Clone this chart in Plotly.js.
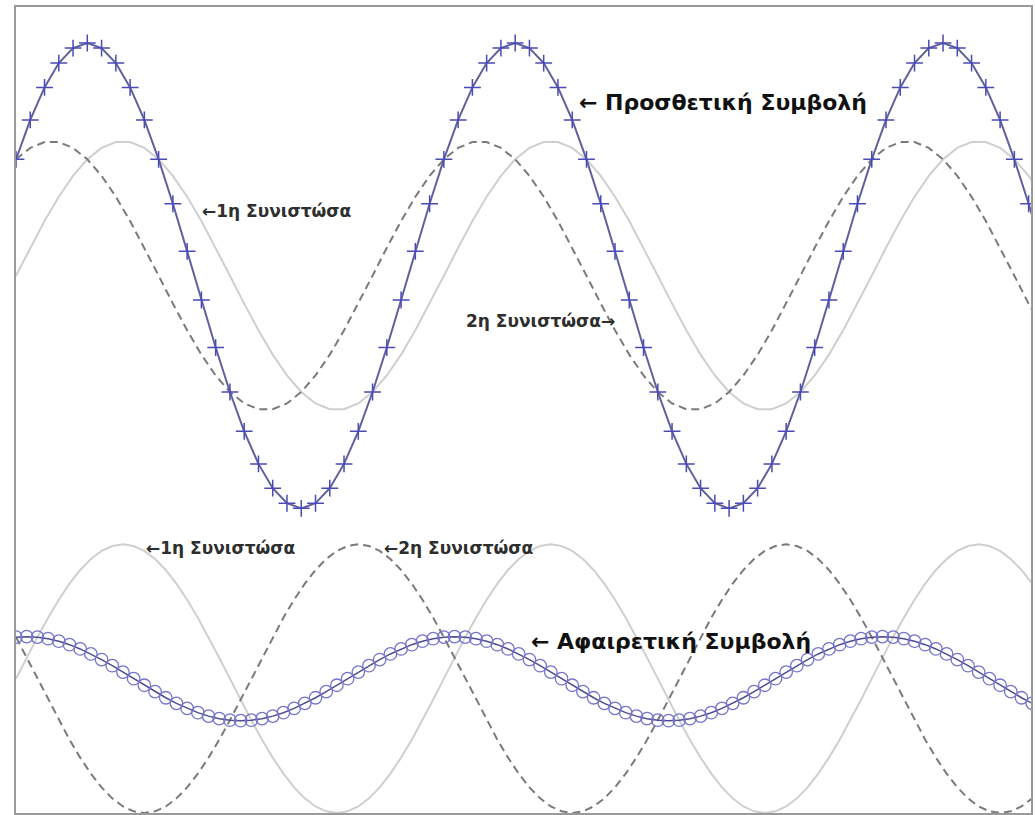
<!DOCTYPE html>
<html>
<head>
<meta charset="utf-8">
<script src="https://cdn.plot.ly/plotly-3.0.1.min.js"></script>
<style>
  html, body { margin: 0; padding: 0; background: #ffffff; }
  #chart { width: 1035px; height: 815px; }
</style>
</head>
<body>
<div id="chart"></div>
<script>
// Phase angle (degrees) for the constructive-interference group
const phaseTop = [0,12,24,36,48,60,72,84,96,108,120,132,144,156,168,180,192,204,216,228,240,252,264,276,288,300,312,324,336,348,
  360,372,384,396,408,420,432,444,456,468,480,492,504,516,528,540,552,564,576,588,600,612,624,636,648,660,672,684,696,708,
  720,732,744,756,768,780,792,804,816,828,840,852,864];

// 1st component (constructive)
const topFirst = [0,0.2079,0.4067,0.5878,0.7431,0.8660,0.9511,0.9945,0.9945,0.9511,0.8660,0.7431,0.5878,0.4067,0.2079,0,-0.2079,-0.4067,-0.5878,-0.7431,-0.8660,-0.9511,-0.9945,-0.9945,-0.9511,-0.8660,-0.7431,-0.5878,-0.4067,-0.2079,
  0,0.2079,0.4067,0.5878,0.7431,0.8660,0.9511,0.9945,0.9945,0.9511,0.8660,0.7431,0.5878,0.4067,0.2079,0,-0.2079,-0.4067,-0.5878,-0.7431,-0.8660,-0.9511,-0.9945,-0.9945,-0.9511,-0.8660,-0.7431,-0.5878,-0.4067,-0.2079,
  0,0.2079,0.4067,0.5878,0.7431,0.8660,0.9511,0.9945,0.9945,0.9511,0.8660,0.7431,0.5878];

// 2nd component (constructive)
const topSecond = [0.8660,0.9511,0.9945,0.9945,0.9511,0.8660,0.7431,0.5878,0.4067,0.2079,0,-0.2079,-0.4067,-0.5878,-0.7431,-0.8660,-0.9511,-0.9945,-0.9945,-0.9511,-0.8660,-0.7431,-0.5878,-0.4067,-0.2079,0,0.2079,0.4067,0.5878,0.7431,
  0.8660,0.9511,0.9945,0.9945,0.9511,0.8660,0.7431,0.5878,0.4067,0.2079,0,-0.2079,-0.4067,-0.5878,-0.7431,-0.8660,-0.9511,-0.9945,-0.9945,-0.9511,-0.8660,-0.7431,-0.5878,-0.4067,-0.2079,0,0.2079,0.4067,0.5878,0.7431,
  0.8660,0.9511,0.9945,0.9945,0.9511,0.8660,0.7431,0.5878,0.4067,0.2079,0,-0.2079,-0.4067];

// Resulting wave (constructive)
const topSum = [0.8660,1.1590,1.4012,1.5823,1.6942,1.7320,1.6942,1.5823,1.4012,1.1590,0.8660,0.5352,0.1811,-0.1811,-0.5352,-0.8660,-1.1590,-1.4012,-1.5823,-1.6942,-1.7320,-1.6942,-1.5823,-1.4012,-1.1590,-0.8660,-0.5352,-0.1811,0.1811,0.5352,
  0.8660,1.1590,1.4012,1.5823,1.6942,1.7320,1.6942,1.5823,1.4012,1.1590,0.8660,0.5352,0.1811,-0.1811,-0.5352,-0.8660,-1.1590,-1.4012,-1.5823,-1.6942,-1.7320,-1.6942,-1.5823,-1.4012,-1.1590,-0.8660,-0.5352,-0.1811,0.1811,0.5352,
  0.8660,1.1590,1.4012,1.5823,1.6942,1.7320,1.6942,1.5823,1.4012,1.1590,0.8660,0.5352,0.1811];

// Phase angle (degrees) for the destructive-interference group
const phaseBottom = [0,9,18,27,36,45,54,63,72,81,90,99,108,117,126,135,144,153,162,171,180,189,198,207,216,225,234,243,252,261,270,279,288,297,306,315,324,333,342,351,
  360,369,378,387,396,405,414,423,432,441,450,459,468,477,486,495,504,513,522,531,540,549,558,567,576,585,594,603,612,621,630,639,648,657,666,675,684,693,702,711,
  720,729,738,747,756,765,774,783,792,801,810,819,828,837,846,855];

// 1st component (destructive)
const bottomFirst = [0,0.1564,0.3090,0.4540,0.5878,0.7071,0.8090,0.8910,0.9511,0.9877,1,0.9877,0.9511,0.8910,0.8090,0.7071,0.5878,0.4540,0.3090,0.1564,0,-0.1564,-0.3090,-0.4540,-0.5878,-0.7071,-0.8090,-0.8910,-0.9511,-0.9877,-1,-0.9877,-0.9511,-0.8910,-0.8090,-0.7071,-0.5878,-0.4540,-0.3090,-0.1564,
  0,0.1564,0.3090,0.4540,0.5878,0.7071,0.8090,0.8910,0.9511,0.9877,1,0.9877,0.9511,0.8910,0.8090,0.7071,0.5878,0.4540,0.3090,0.1564,0,-0.1564,-0.3090,-0.4540,-0.5878,-0.7071,-0.8090,-0.8910,-0.9511,-0.9877,-1,-0.9877,-0.9511,-0.8910,-0.8090,-0.7071,-0.5878,-0.4540,-0.3090,-0.1564,
  0,0.1564,0.3090,0.4540,0.5878,0.7071,0.8090,0.8910,0.9511,0.9877,1,0.9877,0.9511,0.8910,0.8090,0.7071];

// 2nd component (destructive)
const bottomSecond = [0.3090,0.1564,0,-0.1564,-0.3090,-0.4540,-0.5878,-0.7071,-0.8090,-0.8910,-0.9511,-0.9877,-1,-0.9877,-0.9511,-0.8910,-0.8090,-0.7071,-0.5878,-0.4540,-0.3090,-0.1564,0,0.1564,0.3090,0.4540,0.5878,0.7071,0.8090,0.8910,0.9511,0.9877,1,0.9877,0.9511,0.8910,0.8090,0.7071,0.5878,0.4540,
  0.3090,0.1564,0,-0.1564,-0.3090,-0.4540,-0.5878,-0.7071,-0.8090,-0.8910,-0.9511,-0.9877,-1,-0.9877,-0.9511,-0.8910,-0.8090,-0.7071,-0.5878,-0.4540,-0.3090,-0.1564,0,0.1564,0.3090,0.4540,0.5878,0.7071,0.8090,0.8910,0.9511,0.9877,1,0.9877,0.9511,0.8910,0.8090,0.7071,0.5878,0.4540,
  0.3090,0.1564,0,-0.1564,-0.3090,-0.4540,-0.5878,-0.7071,-0.8090,-0.8910,-0.9511,-0.9877,-1,-0.9877,-0.9511,-0.8910];

// Resulting wave (destructive)
const bottomSum = [0.3091,0.3129,0.3091,0.2976,0.2788,0.2531,0.2213,0.1839,0.1421,0.0967,0.0489,0,-0.0489,-0.0967,-0.1421,-0.1839,-0.2213,-0.2531,-0.2788,-0.2976,-0.3091,-0.3129,-0.3091,-0.2976,-0.2788,-0.2531,-0.2213,-0.1839,-0.1421,-0.0967,-0.0489,0,0.0489,0.0967,0.1421,0.1839,0.2213,0.2531,0.2788,0.2976,
  0.3091,0.3129,0.3091,0.2976,0.2788,0.2531,0.2213,0.1839,0.1421,0.0967,0.0489,0,-0.0489,-0.0967,-0.1421,-0.1839,-0.2213,-0.2531,-0.2788,-0.2976,-0.3091,-0.3129,-0.3091,-0.2976,-0.2788,-0.2531,-0.2213,-0.1839,-0.1421,-0.0967,-0.0489,0,0.0489,0.0967,0.1421,0.1839,0.2213,0.2531,0.2788,0.2976,
  0.3091,0.3129,0.3091,0.2976,0.2788,0.2531,0.2213,0.1839,0.1421,0.0967,0.0489,0,-0.0489,-0.0967,-0.1421,-0.1839];

// Label texts
const labelConstructive = '\u2190 Προσθετική Συμβολή';
const labelDestructive = '\u2190 Αφαιρετική Συμβολή';
const labelFirst = '\u21901η Συνιστώσα';
const labelSecondLeft = '\u21902η Συνιστώσα';
const labelSecondRight = '2η Συνιστώσα\u2192';

const lightGray = '#cfcfcf';
const darkGray = '#7a7a7a';

const traces = [
  // destructive group on the lower band (y axis)
  { x: phaseBottom, y: bottomFirst, type: 'scatter', mode: 'lines', xaxis: 'x', yaxis: 'y',
    line: { color: lightGray, width: 2 }, hoverinfo: 'skip' },
  { x: phaseBottom, y: bottomSecond, type: 'scatter', mode: 'lines', xaxis: 'x', yaxis: 'y',
    line: { color: darkGray, width: 2, dash: '8px,5px' }, hoverinfo: 'skip' },
  { x: phaseBottom, y: bottomSum, type: 'scatter', mode: 'lines+markers', xaxis: 'x', yaxis: 'y',
    line: { color: '#4d4d8f', width: 1.5 },
    marker: { symbol: 'circle-open', size: 12.5, color: '#7474cc', line: { width: 1.3, color: '#7474cc' } },
    hoverinfo: 'skip' },
  // constructive group on the upper band (y2 axis, shifted range)
  { x: phaseTop, y: topFirst, type: 'scatter', mode: 'lines', xaxis: 'x', yaxis: 'y2',
    line: { color: lightGray, width: 2 }, hoverinfo: 'skip' },
  { x: phaseTop, y: topSecond, type: 'scatter', mode: 'lines', xaxis: 'x', yaxis: 'y2',
    line: { color: darkGray, width: 2, dash: '8px,5px' }, hoverinfo: 'skip' },
  { x: phaseTop, y: topSum, type: 'scatter', mode: 'lines+markers', xaxis: 'x', yaxis: 'y2',
    line: { color: '#60609c', width: 2 },
    marker: { symbol: 'cross-thin', size: 12, color: '#4a4ab8', line: { width: 1.5, color: '#4a4ab8' } },
    hoverinfo: 'skip' }
];

const smallFont = { family: 'DejaVu Sans, Verdana, sans-serif', size: 17, color: '#2e2e2e' };
const bigFont = { family: 'DejaVu Sans, Verdana, sans-serif', size: 22, color: '#111111' };

function label(text, x, y, font, anchor) {
  return { text: text, x: x, y: y, xref: 'x', yref: 'y', showarrow: false,
    xanchor: anchor, yanchor: 'middle', font: font };
}

const layout = {
  width: 1035, height: 815,
  margin: { l: 16, r: 4, t: 7, b: 2, pad: 0 },
  paper_bgcolor: '#ffffff', plot_bgcolor: '#ffffff',
  showlegend: false,
  xaxis: { range: [0, 854], showticklabels: false, ticks: '', showgrid: false, zeroline: false,
    showline: true, mirror: true, linecolor: '#9a9a9a', linewidth: 2 },
  yaxis: { range: [-1, 5], showticklabels: false, ticks: '', showgrid: false, zeroline: false,
    showline: true, mirror: true, linecolor: '#9a9a9a', linewidth: 2 },
  yaxis2: { range: [-4, 2], overlaying: 'y', visible: false, showgrid: false, zeroline: false },
  annotations: [
    label('<b>' + labelConstructive + '</b>', 472, 4.29, bigFont, 'left'),
    label('<b>' + labelFirst + '</b>', 155, 3.48, smallFont, 'left'),
    label('<b>' + labelSecondRight + '</b>', 506, 2.66, smallFont, 'right'),
    label('<b>' + labelFirst + '</b>', 108, 0.975, smallFont, 'left'),
    label('<b>' + labelSecondLeft + '</b>', 308, 0.975, smallFont, 'left'),
    label('<b>' + labelDestructive + '</b>', 432, 0.275, bigFont, 'left')
  ]
};

Plotly.newPlot('chart', traces, layout, { displayModeBar: false, staticPlot: true });
</script>
</body>
</html>
